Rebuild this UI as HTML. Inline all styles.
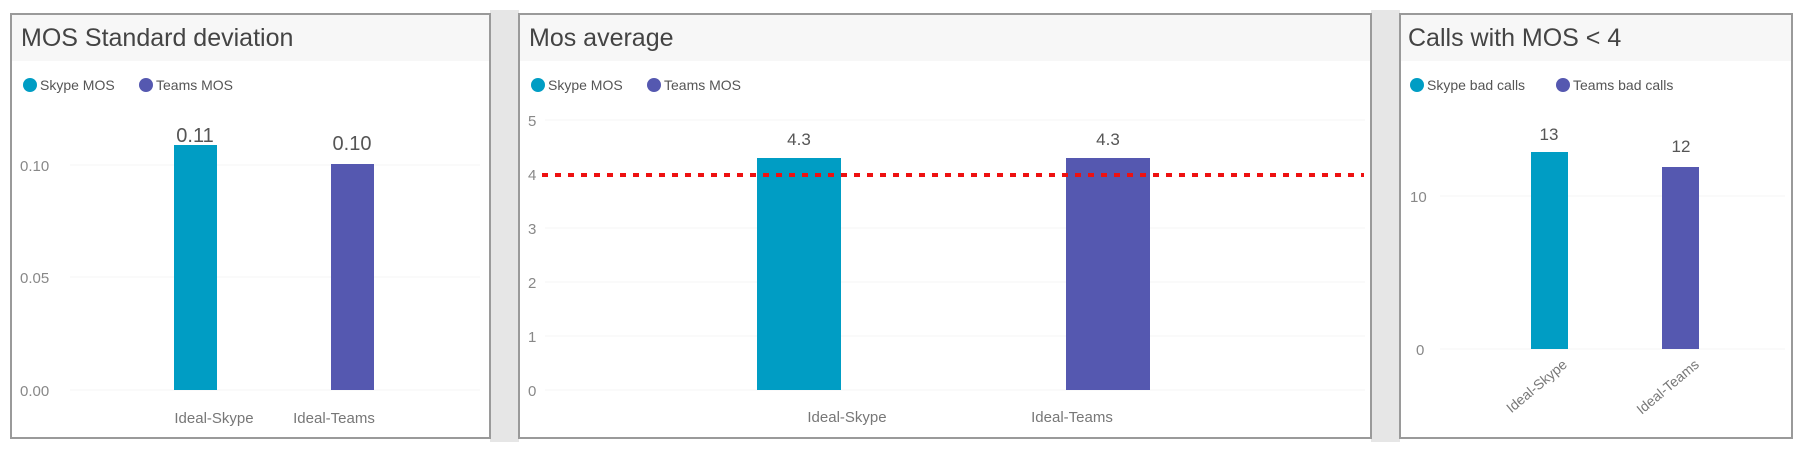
<!DOCTYPE html>
<html><head><style>
body{margin:0;width:1807px;height:450px;background:#fff;overflow:hidden;font-family:"Liberation Sans",sans-serif;}
</style></head><body>
<svg width="1807" height="450" xmlns="http://www.w3.org/2000/svg" font-family="Liberation Sans, sans-serif">
<rect x="0" y="0" width="1807" height="450" fill="#fff"/>
<rect x="490" y="10" width="29" height="432" fill="#e6e6e6"/>
<rect x="1371" y="10" width="29" height="432" fill="#e6e6e6"/>
<!-- panel 1 -->
<rect x="11" y="14" width="479" height="424" fill="#fff" stroke="#9a9a9a" stroke-width="2"/>
<rect x="12" y="15" width="477" height="46" fill="#f7f7f7"/>
<text x="21" y="46" font-size="25" fill="#444">MOS Standard deviation</text>
<circle cx="30" cy="85" r="7" fill="#009dc4"/><text x="40" y="90" font-size="14" fill="#555">Skype MOS</text>
<circle cx="146" cy="85" r="7" fill="#5558b0"/><text x="156" y="90" font-size="14" fill="#555">Teams MOS</text>
<g stroke="#f4f4f4"><line x1="70" y1="165" x2="480" y2="165"/><line x1="70" y1="277" x2="480" y2="277"/><line x1="70" y1="390" x2="480" y2="390"/></g>
<g font-size="15" fill="#888"><text x="20" y="171">0.10</text><text x="20" y="283">0.05</text><text x="20" y="396">0.00</text></g>
<rect x="174" y="145" width="43" height="245" fill="#009dc4"/>
<rect x="331" y="164" width="43" height="226" fill="#5558b0"/>
<g font-size="20" fill="#555" text-anchor="middle"><text x="195" y="142">0.11</text><text x="352" y="150">0.10</text></g>
<g font-size="15" fill="#777" text-anchor="middle"><text x="214" y="423">Ideal-Skype</text><text x="334" y="423">Ideal-Teams</text></g>
<!-- panel 2 -->
<rect x="519" y="14" width="852" height="424" fill="#fff" stroke="#9a9a9a" stroke-width="2"/>
<rect x="520" y="15" width="850" height="46" fill="#f7f7f7"/>
<text x="529" y="46" font-size="25" fill="#444">Mos average</text>
<circle cx="538" cy="85" r="7" fill="#009dc4"/><text x="548" y="90" font-size="14" fill="#555">Skype MOS</text>
<circle cx="654" cy="85" r="7" fill="#5558b0"/><text x="664" y="90" font-size="14" fill="#555">Teams MOS</text>
<g stroke="#f4f4f4"><line x1="545" y1="120" x2="1365" y2="120"/><line x1="545" y1="228" x2="1365" y2="228"/><line x1="545" y1="282" x2="1365" y2="282"/><line x1="545" y1="336" x2="1365" y2="336"/><line x1="545" y1="390" x2="1365" y2="390"/></g>
<g font-size="15" fill="#888"><text x="528" y="126">5</text><text x="528" y="180">4</text><text x="528" y="234">3</text><text x="528" y="288">2</text><text x="528" y="342">1</text><text x="528" y="396">0</text></g>
<rect x="757" y="158" width="84" height="232" fill="#009dc4"/>
<rect x="1066" y="158" width="84" height="232" fill="#5558b0"/>
<line x1="542" y1="175" x2="1364" y2="175" stroke="#ee1111" stroke-width="4" stroke-dasharray="6,7"/>
<g font-size="17" fill="#555" text-anchor="middle"><text x="799" y="145">4.3</text><text x="1108" y="145">4.3</text></g>
<g font-size="15" fill="#777" text-anchor="middle"><text x="847" y="422">Ideal-Skype</text><text x="1072" y="422">Ideal-Teams</text></g>
<!-- panel 3 -->
<rect x="1400" y="14" width="392" height="424" fill="#fff" stroke="#9a9a9a" stroke-width="2"/>
<rect x="1401" y="15" width="390" height="46" fill="#f7f7f7"/>
<text x="1408" y="46" font-size="25" fill="#444">Calls with MOS &lt; 4</text>
<circle cx="1417" cy="85" r="7" fill="#009dc4"/><text x="1427" y="90" font-size="14" fill="#555">Skype bad calls</text>
<circle cx="1563" cy="85" r="7" fill="#5558b0"/><text x="1573" y="90" font-size="14" fill="#555">Teams bad calls</text>
<g stroke="#f4f4f4"><line x1="1440" y1="196" x2="1785" y2="196"/><line x1="1440" y1="349" x2="1785" y2="349"/></g>
<g font-size="15" fill="#888"><text x="1410" y="202">10</text><text x="1416" y="355">0</text></g>
<rect x="1531" y="152" width="37" height="197" fill="#009dc4"/>
<rect x="1662" y="167" width="37" height="182" fill="#5558b0"/>
<g font-size="17" fill="#555" text-anchor="middle"><text x="1549" y="140">13</text><text x="1681" y="152">12</text></g>
<g font-size="14" fill="#777" text-anchor="end"><text transform="translate(1568,366) rotate(-40)">Ideal-Skype</text><text transform="translate(1700,366) rotate(-40)">Ideal-Teams</text></g>
</svg>
</body></html>
